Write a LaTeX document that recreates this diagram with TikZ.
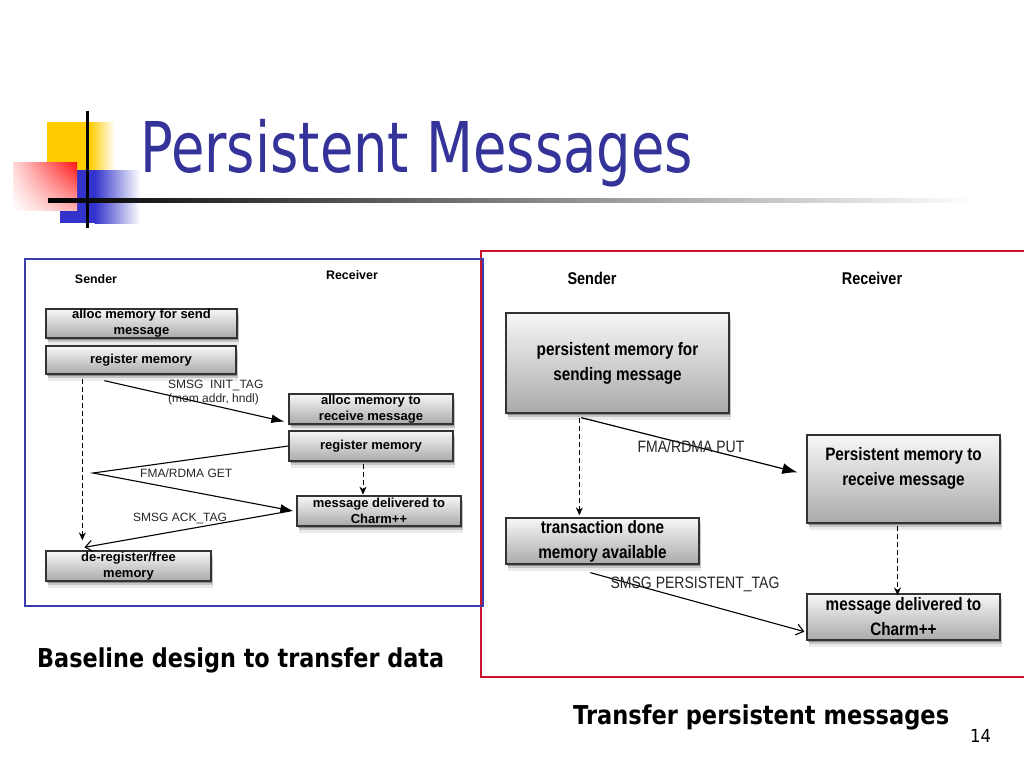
\documentclass[tikz,border=0pt]{standalone}
\usepackage{fontspec}
\setmainfont{Liberation Sans}
\newfontfamily\titlefont{DejaVu Sans}
\usetikzlibrary{arrows.meta,shadows,shadings,calc}
\definecolor{titleblue}{RGB}{51,51,153}
\definecolor{decoyellow}{RGB}{255,204,0}
\definecolor{decoblue}{RGB}{51,51,204}
\definecolor{decored}{RGB}{255,20,20}
\definecolor{frameblue}{RGB}{60,60,170}
\definecolor{framered}{RGB}{200,20,45}
\definecolor{boxtop}{RGB}{247,247,247}
\definecolor{boxbot}{RGB}{170,170,170}
\newcommand\nar[1]{\scalebox{0.85}[1]{#1}}
\tikzset{
  softshadow/.style={
    general shadow={shadow xshift=1pt, shadow yshift=-2pt, fill=black, opacity=0.28},
    general shadow={shadow xshift=1.5pt, shadow yshift=-4pt, fill=black, opacity=0.16},
    general shadow={shadow xshift=2pt, shadow yshift=-6.5pt, fill=black, opacity=0.08}},
  gbox/.style={draw=black!80, line width=1.3pt, top color=boxtop, bottom color=boxbot,
    softshadow, inner sep=0pt, align=center},
  lboxfont/.style={font=\fontsize{13}{16}\selectfont\bfseries},
  rboxfont/.style={font=\fontsize{18}{25}\selectfont\bfseries},
  lhead/.style={font=\fontsize{12.4}{14}\selectfont\bfseries, inner sep=0pt},
  rhead/.style={font=\fontsize{17}{19}\selectfont\bfseries, inner sep=0pt},
  llbl/.style={font=\fontsize{12}{14}\selectfont, inner sep=0pt, text=black!85},
  rlbl/.style={font=\fontsize{16.5}{18}\selectfont, inner sep=0pt, text=black!85},
  darr/.style={line width=1pt, dash pattern=on 5pt off 3pt, -{Stealth[length=8pt,width=7pt]}},
  farr/.style={line width=1.1pt, -{Latex[length=13pt,width=9pt]}},
  farrbig/.style={line width=1.2pt, -{Latex[length=15pt,width=11pt]}},
  oarr/.style={line width=1.1pt, -{Straight Barb[length=7pt,width=11pt,line width=1.1pt]}},
}
\begin{document}
\begin{tikzpicture}[x=1pt,y=-1pt]
\useasboundingbox (0,0) rectangle (1024,768);
\fill[white] (0,0) rectangle (1024,768);

% decoration
\fill[decoyellow] (47,122) rectangle (90,179);
\shade[left color=decoyellow, right color=white] (89.5,122) rectangle (115,179);
\fill[decoblue] (60,170) rectangle (95,223);
\shade[left color=decoblue, right color=white] (94.5,170) rectangle (140,223);
\shade[upper left=red!15, upper right=decored, lower left=white, lower right=red!30] (13,162) rectangle (77,210);
\shade[left color=black, right color=white] (48,198) rectangle (975,202);
\fill[black] (85.5,111) rectangle (88.5,228);

% title
\node[anchor=base west, inner sep=0pt, text=titleblue] (title) at (140,172)
  {\resizebox{553pt}{\height}{\titlefont\fontsize{70}{70}\selectfont Persistent Messages}};

% frames
\draw[framered, line width=1.1pt] (1030,251) -- (481,251) -- (481,677) -- (1030,677);
\draw[frameblue, line width=1.1pt] (25,259) rectangle (483,606);

% left diagram
\node[lhead] (lsend) at (96,279) {Sender};
\node[lhead] (lrecv) at (352,275) {Receiver};
\node[gbox, lboxfont, minimum width=191pt, minimum height=29pt] (la) at (141.5,323.5) {alloc memory for send\\message};
\node[gbox, lboxfont, minimum width=190pt, minimum height=28pt] (lb) at (141,360) {register memory};
\node[gbox, lboxfont, minimum width=164pt, minimum height=30pt] (lc) at (371,409) {alloc memory to\\receive message};
\node[gbox, lboxfont, minimum width=164pt, minimum height=30pt] (ld) at (371,446) {register memory};
\node[gbox, lboxfont, minimum width=164pt, minimum height=30pt] (le) at (379,511) {message delivered to\\Charm++};
\node[gbox, lboxfont, minimum width=165pt, minimum height=30pt] (lf) at (128.5,566) {de-register/free\\memory};

\draw[darr] ($(lb.south west)+(37,4)$) -- ($(lf.north west)+(37,-10)$);
\draw[farr] ($(lb.south west)+(59,6)$) -- ($(lc.south west)+(-4,-3)$);
\node[llbl, anchor=west] (linit) at (168,385) {SMSG\ \ INIT\_TAG};
\node[llbl, anchor=west] (lmem) at (168,399) {(mem addr, hndl)};
\coordinate (gv) at (93,473);
\draw[farr] (ld.west) -- (gv) -- ([xshift=-3pt]le.west);
\node[llbl, anchor=west] (lget) at (140,473) {FMA/RDMA GET};
\draw[darr] ($(ld.south)+(-8,2)$) -- ($(ld.south)+(-8,33)$);
\draw[oarr] ([xshift=-6pt]le.west) -- ($(lf.north west)+(39,-3)$);
\node[llbl, anchor=west] (lack) at (133,518) {SMSG ACK\_TAG};

% right diagram
\node[rhead] (rsend) at (592,278) {\nar{Sender}};
\node[rhead] (rrecv) at (872,278) {\nar{Receiver}};
\node[gbox, rboxfont, minimum width=223pt, minimum height=100pt] (ra) at (617.5,363) {\nar{persistent memory for}\\\nar{sending message}};
\node[gbox, minimum width=193pt, minimum height=88pt] (rb) at (903.5,479) {};
\node[rboxfont, inner sep=0pt, align=center] (rbt) at ([yshift=11pt]rb.center) {\nar{Persistent memory to}\\\nar{receive message}};
\node[gbox, rboxfont, minimum width=193pt, minimum height=46pt] (rc) at (602.5,541) {\nar{transaction done}\\\nar{memory available}};
\node[gbox, rboxfont, minimum width=193pt, minimum height=46pt] (rd) at (903.5,617) {\nar{message delivered to}\\\nar{Charm++}};

\draw[darr] ($(ra.south west)+(74,4)$) -- ($(rc.north west)+(74,-2)$);
\draw[farrbig] ($(ra.south west)+(76,4)$) -- ($(rb.north west)+(-9,38)$);
\node[rlbl] (rput) at (691,447) {\nar{FMA/RDMA PUT}};
\draw[darr] ($(rb.south)+(-6,2)$) -- ($(rd.north)+(-6,2)$);
\draw[oarr] ($(rc.south west)+(85,8)$) -- ($(rd.south west)+(-2,-9)$);
\node[rlbl] (rpers) at (695,584) {\nar{SMSG PERSISTENT\_TAG}};

% captions
\node[anchor=base west, inner sep=0pt] (cap1) at (37,667)
  {\resizebox{407pt}{\height}{\titlefont\bfseries\fontsize{26}{26}\selectfont Baseline design to transfer data}};
\node[anchor=base west, inner sep=0pt] (cap2) at (573,724)
  {\resizebox{376pt}{\height}{\titlefont\bfseries\fontsize{26}{26}\selectfont Transfer persistent messages}};
\node[anchor=base west, inner sep=0pt] (pnum) at (970,742)
  {\resizebox{21pt}{\height}{\titlefont\fontsize{18}{18}\selectfont 14}};
\end{tikzpicture}
\end{document}
